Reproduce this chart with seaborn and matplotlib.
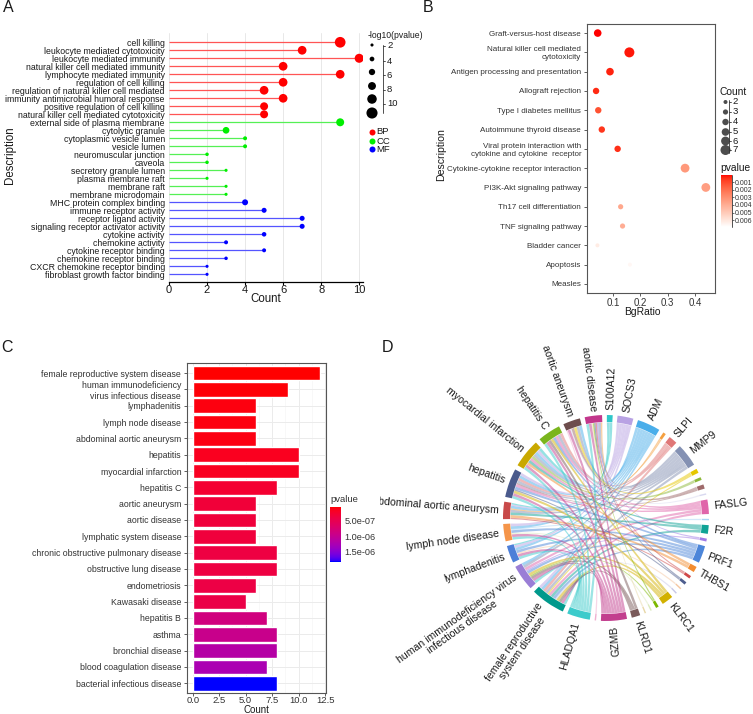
import numpy as np
import pandas as pd
import matplotlib
matplotlib.use("Agg")
import matplotlib.pyplot as plt
import matplotlib.colors as mcolors
from matplotlib.colors import ListedColormap, Normalize
from matplotlib.path import Path
from matplotlib.patches import PathPatch, Wedge
from matplotlib.ticker import MultipleLocator
from matplotlib import font_manager
import matplotlib.cm as mcm
import seaborn as sns

# ======================= DATA =======================
# ---- Panel A: GO enrichment (lollipop) ----
go_terms = ["cell killing", "leukocyte mediated cytotoxicity", "leukocyte mediated immunity",
            "natural killer cell mediated immunity", "lymphocyte mediated immunity",
            "regulation of cell killing", "regulation of natural killer cell mediated",
            "immunity antimicrobial humoral response", "positive regulation of cell killing",
            "natural killer cell mediated cytotoxicity",
            "external side of plasma membrane", "cytolytic granule", "cytoplasmic vesicle lumen",
            "vesicle lumen", "neuromuscular junction", "caveola", "secretory granule lumen",
            "plasma membrane raft", "membrane raft", "membrane microdomain",
            "MHC protein complex binding", "immune receptor activity", "receptor ligand activity",
            "signaling receptor activator activity", "cytokine activity", "chemokine activity",
            "cytokine receptor binding", "chemokine receptor binding",
            "CXCR chemokine receptor binding", "fibroblast growth factor binding"]
go_ontology = ["BP"] * 10 + ["CC"] * 10 + ["MF"] * 10
go_count = [9, 7, 10, 6, 9, 6, 5, 6, 5, 5,
            9, 3, 4, 4, 2, 2, 3, 2, 3, 3,
            4, 5, 7, 7, 5, 3, 5, 3, 2, 2]
go_neglogp = [11.5, 9.0, 9.4, 9.0, 9.0, 9.0, 9.0, 9.0, 8.1, 8.1,
              8.1, 6.5, 3.1, 3.1, 2.5, 2.5, 2.0, 2.0, 2.0, 2.0,
              5.6, 4.4, 4.4, 4.4, 3.8, 3.1, 3.1, 2.5, 2.0, 2.0]
go_size_breaks = [2, 4, 6, 8, 10, 12]
go_size_labels = ["2", "4", "6", "8", "10"]
go_ont_levels = ["BP", "CC", "MF"]

# ---- Panel B: KEGG enrichment (dot plot) ----
kegg_terms = ["Graft-versus-host disease", "Natural killer cell mediated\ncytotoxicity",
              "Antigen processing and presentation", "Allograft rejection",
              "Type I diabetes mellitus", "Autoimmune thyroid disease",
              "Viral protein interaction with\ncytokine and cytokine  receptor",
              "Cytokine-cytokine receptor interaction", "PI3K-Akt signaling pathway",
              "Th17 cell differentiation", "TNF signaling pathway", "Bladder cancer",
              "Apoptosis", "Measles"]
kegg_bgratio = [0.044, 0.160, 0.089, 0.038, 0.046, 0.059, 0.117,
                0.364, 0.440, 0.128, 0.135, 0.043, 0.162, 0.150]
kegg_count = [5, 7, 5, 4, 4, 4, 4, 6, 6, 3, 3, 2, 2, 2]
kegg_pvalue = [0.00005, 0.0002, 0.0003, 0.0004, 0.0012, 0.0006, 0.0005,
               0.0033, 0.0035, 0.0038, 0.0040, 0.0062, 0.0066, 0.0069]
kegg_count_breaks = [2, 3, 4, 5, 6, 7]
kegg_p_ticks = [0.001, 0.002, 0.003, 0.004, 0.005, 0.006]

# ---- Panel C: DO enrichment (bar chart) ----
do_terms = ["female reproductive system disease", "human immunodeficiency\nvirus infectious disease",
            "lymphadenitis", "lymph node disease", "abdominal aortic aneurysm", "hepatitis",
            "myocardial infarction", "hepatitis C", "aortic aneurysm", "aortic disease",
            "lymphatic system disease", "chronic obstructive pulmonary disease",
            "obstructive lung disease", "endometriosis", "Kawasaki disease", "hepatitis B",
            "asthma", "bronchial disease", "blood coagulation disease",
            "bacterial infectious disease"]
do_count = [12, 9, 6, 6, 6, 10, 10, 8, 6, 6, 6, 8, 8, 6, 5, 7, 8, 8, 7, 8]
do_pvalue = [3.3e-8, 6e-8, 8e-8, 8e-8, 9e-8, 1.5e-7, 1.6e-7, 2.6e-7, 3.2e-7, 3.3e-7,
             3.4e-7, 3.8e-7, 3.8e-7, 4.0e-7, 4.2e-7, 8.5e-7, 9.5e-7, 1.15e-6, 1.25e-6, 1.83e-6]
do_p_ticks = [5e-7, 1e-6, 1.5e-6]
do_p_ticklabels = ["5.0e-07", "1.0e-06", "1.5e-06"]

# ---- Panel D: disease-gene chord diagram ----
chord_diseases = ["female reproductive system disease", "human immunodeficiency virus infectious disease",
                  "lymphadenitis", "lymph node disease", "abdominal aortic aneurysm", "hepatitis",
                  "myocardial infarction", "hepatitis C", "aortic aneurysm", "aortic disease"]
chord_disease_labels = ["female reproductive\nsystem disease", "human immunodeficiency virus\ninfectious disease",
                        "lymphadenitis", "lymph node disease", "abdominal aortic aneurysm", "hepatitis",
                        "myocardial infarction", "hepatitis C", "aortic aneurysm", "aortic disease"]
chord_disease_colors = ["#00998C", "#9A7ED6", "#4D7FD8", "#F5954A", "#C84A4A",
                        "#4A5A8C", "#C9A800", "#7AB51D", "#6E4D4D", "#C2378C"]
chord_genes = ["S100A12", "SOCS3", "ADM", "g04", "SLPI", "MMP9", "g07", "g08", "g09", "g10",
               "FASLG", "g12", "F2R", "g14", "PRF1", "THBS1", "g17", "g18", "g19", "g20",
               "KLRC1", "g22", "g23", "g24", "KLRD1", "GZMB", "g27", "HLADQA1"]
chord_gene_labels = ["S100A12", "SOCS3", "ADM", "", "SLPI", "MMP9", "", "", "", "",
                     "FASLG", "", "F2R", "", "PRF1", "THBS1", "", "", "", "",
                     "KLRC1", "", "", "", "KLRD1", "GZMB", "", "HLADQA1"]
chord_gene_colors = ["#2EC7C9", "#B8A2E3", "#4AAEEA", "#F5A040", "#E07777", "#8491B3",
                     "#E6C700", "#8DB83A", "#9E6A6A", "#D9D9F0", "#E065AA", "#A9D4F5",
                     "#0FA396", "#A07AE6", "#4D86D9", "#F28C30", "#D04848", "#4E5E8E",
                     "#F5C6A0", "#C8C8E8", "#D2B100", "#7CB800", "#DDEBC0", "#E8D8A8",
                     "#7A5A5A", "#C23E8E", "#F0B0D0", "#3CCBCB"]
chord_links = {
    "female reproductive system disease": {"GZMB": 1, "HLADQA1": 1, "PRF1": 1, "FASLG": 1, "MMP9": 1,
                                           "ADM": 1, "SOCS3": 1, "KLRC1": 1, "KLRD1": 1, "SLPI": 1,
                                           "F2R": 1, "g07": 0.5, "g20": 0.5},
    "human immunodeficiency virus infectious disease": {"GZMB": 1, "HLADQA1": 1, "PRF1": 1, "FASLG": 1,
                                                        "KLRC1": 1, "KLRD1": 1, "MMP9": 1, "ADM": 1,
                                                        "g14": 0.5, "g22": 0.5},
    "lymphadenitis": {"GZMB": 1, "HLADQA1": 1, "PRF1": 1, "S100A12": 0.5, "ADM": 1, "SOCS3": 1,
                      "g19": 0.5},
    "lymph node disease": {"GZMB": 1, "HLADQA1": 1, "PRF1": 1, "ADM": 1, "SOCS3": 1, "g23": 0.5,
                           "g12": 0.5},
    "abdominal aortic aneurysm": {"MMP9": 1, "THBS1": 1, "ADM": 1, "SOCS3": 0.5, "S100A12": 0.5,
                                  "F2R": 1, "g17": 0.5, "g04": 0.5},
    "hepatitis": {"GZMB": 1, "HLADQA1": 1, "FASLG": 1, "PRF1": 1, "MMP9": 1, "ADM": 1, "SOCS3": 1,
                  "KLRC1": 1, "SLPI": 1, "g09": 0.5, "g18": 0.5},
    "myocardial infarction": {"MMP9": 1, "ADM": 1, "SOCS3": 1, "F2R": 1, "THBS1": 1, "FASLG": 1,
                              "GZMB": 1, "HLADQA1": 1, "S100A12": 1, "g08": 1},
    "hepatitis C": {"GZMB": 1, "HLADQA1": 1, "FASLG": 1, "PRF1": 1, "KLRC1": 1, "KLRD1": 1,
                    "MMP9": 1, "SLPI": 1},
    "aortic aneurysm": {"MMP9": 1, "ADM": 1, "GZMB": 1, "g09": 1, "g07": 1, "g27": 0.5, "g10": 0.5},
    "aortic disease": {"MMP9": 1, "GZMB": 1, "HLADQA1": 1, "g17": 0.5, "g18": 0.5, "g14": 0.5,
                       "g22": 0.5, "g24": 0.5, "g04": 0.5},
}

# ======================= HELPERS =======================
W, H = 753, 714
sns.set_style("white")
plt.rcParams["font.family"] = ["Liberation Sans", "DejaVu Sans"]
_names = {f.name for f in font_manager.fontManager.ttflist}
NARROW = ["Liberation Sans Narrow"] if "Liberation Sans Narrow" in _names else ["Liberation Sans"]
NARROW_OK = NARROW[0] == "Liberation Sans Narrow"

_M = np.array([[0.4124, 0.3576, 0.1805], [0.2126, 0.7152, 0.0722], [0.0193, 0.1192, 0.9505]])
_WP = np.array([0.95047, 1.0, 1.08883])


def _to_lin(c):
    c = np.asarray(c, float)
    return np.where(c <= 0.04045, c / 12.92, ((c + 0.055) / 1.055) ** 2.4)


def _to_srgb(c):
    c = np.clip(c, 0, 1)
    return np.where(c <= 0.0031308, 12.92 * c, 1.055 * c ** (1 / 2.4) - 0.055)


def rgb_to_lab(rgb):
    xyz = _M @ _to_lin(rgb) / _WP
    d = 6 / 29
    f = np.where(xyz > d ** 3, np.cbrt(xyz), xyz / (3 * d * d) + 4 / 29)
    return np.array([116 * f[1] - 16, 500 * (f[0] - f[1]), 200 * (f[1] - f[2])])


def lab_to_rgb(lab):
    d = 6 / 29
    fy = (lab[0] + 16) / 116
    f = np.array([fy + lab[1] / 500, fy, fy - lab[2] / 200])
    xyz = np.where(f > d, f ** 3, 3 * d * d * (f - 4 / 29)) * _WP
    return _to_srgb(np.linalg.solve(_M, xyz))


def lab_cmap(c1, c2, n=256):
    l1, l2 = rgb_to_lab(mcolors.to_rgb(c1)), rgb_to_lab(mcolors.to_rgb(c2))
    return ListedColormap([lab_to_rgb(l1 + (l2 - l1) * t) for t in np.linspace(0, 1, n)])


fig = plt.figure(figsize=(W / 100, H / 100), dpi=100)


def px_axes(l, t, r, b, **kw):
    return fig.add_axes([l / W, 1 - b / H, (r - l) / W, (b - t) / H], **kw)


PT = 0.72  # points per pixel at 100 dpi
TXT = "#1A1A1A"

# ======================= PANEL A =======================
dfA = pd.DataFrame({"term": go_terms, "ontology": go_ontology, "count": go_count,
                    "nlp": go_neglogp})
dfA["pos"] = np.arange(len(dfA))
ptA = {"BP": "#FF0000", "CC": "#00EE00", "MF": "#0000FF"}
lnA = {"BP": "#FF5555", "CC": "#55F055", "MF": "#5555FF"}


def sizeA(v):
    return ((0.8 * np.asarray(v, float) + 1.5) * PT) ** 2


axA = px_axes(169, 33, 363, 282)
axA.hlines(dfA["pos"], 0, dfA["count"], colors=[lnA[o] for o in dfA["ontology"]],
           lw=0.9, zorder=2)
sns.scatterplot(data=dfA, x="count", y="pos", hue="ontology", palette=ptA,
                s=sizeA(dfA["nlp"]), linewidth=0, legend=False, ax=axA, zorder=3)
axA.set_xlim(0, 10.2)
axA.set_ylim(len(dfA) - 1 + 0.96, -1.16)
axA.set_yticks(dfA["pos"])
axA.set_yticklabels(dfA["term"], family=NARROW + ["Liberation Sans", "DejaVu Sans"],
                    fontsize=7.4 if NARROW_OK else 6.3)
axA.set_xticks([0, 2, 4, 6, 8, 10])
axA.tick_params(axis="y", length=0, pad=3, labelcolor=TXT)
axA.tick_params(axis="x", length=2, width=0.8, color="black", labelsize=8, pad=0.5,
                direction="out", bottom=True, labelcolor=TXT)
for sp in ["left", "top", "right"]:
    axA.spines[sp].set_visible(False)
axA.spines["bottom"].set_color("black")
axA.spines["bottom"].set_linewidth(0.9)
axA.grid(axis="x", color="#E8E8E8", lw=0.7)
axA.grid(axis="y", visible=False)
axA.set_axisbelow(True)
axA.set_xlabel("")
axA.set_ylabel("")

# ======================= PANEL B =======================
dfB = pd.DataFrame({"term": kegg_terms, "bg": kegg_bgratio, "count": kegg_count,
                    "p": kegg_pvalue})
dfB["pos"] = np.arange(len(dfB))
cmapB = lab_cmap("#FF0000", "#FFFFFF")
normB = Normalize(min(kegg_pvalue), max(kegg_pvalue))


def sizeB(c):
    return ((1.6 + 1.2 * np.asarray(c, float)) * PT) ** 2


axB = px_axes(586.7, 24, 715, 293)
sns.scatterplot(data=dfB, x="bg", y="pos", hue="p", palette=cmapB, hue_norm=normB,
                s=sizeB(dfB["count"]), linewidth=0, legend=False, ax=axB, zorder=3)
axB.set_xlim(0.0037, 0.4736)
axB.set_ylim(len(dfB) - 1 + 0.47, -0.47)
axB.set_yticks(dfB["pos"])
axB.set_yticklabels(dfB["term"])
axB.set_xticks([0.1, 0.2, 0.3, 0.4])
axB.set_xticklabels(["0.1", "0.2", "0.3", "0.4"])
axB.tick_params(axis="y", length=2, width=0.6, color="#444444", labelsize=5.8, pad=2,
                left=True, labelcolor="#333333")
axB.tick_params(axis="x", length=2.5, width=0.6, color="#444444", labelsize=7, pad=1,
                bottom=True, labelcolor="#333333")
for sp in axB.spines.values():
    sp.set_color("#555555")
    sp.set_linewidth(0.8)
axB.grid(False)
axB.set_xlabel("")
axB.set_ylabel("")

# ======================= PANEL C =======================
dfC = pd.DataFrame({"term": do_terms, "count": do_count, "p": do_pvalue})
cmapC = lab_cmap("#FF0000", "#0000FF")
normC = Normalize(min(do_pvalue), max(do_pvalue))
palC = {t: cmapC(normC(p)) for t, p in zip(dfC["term"], dfC["p"])}

axC = px_axes(186.7, 363.3, 326, 693)
sns.barplot(data=dfC, x="count", y="term", hue="term", palette=palC, legend=False,
            width=0.9, saturation=1, orient="h", ax=axC, zorder=3)
axC.set_xlim(-0.57, 12.58)
axC.set_ylim(len(dfC) - 1 + 0.6, -0.6)
axC.set_xticks([0, 2.5, 5, 7.5, 10, 12.5])
axC.set_xticklabels(["0.0", "2.5", "5.0", "7.5", "10.0", "12.5"])
axC.xaxis.set_minor_locator(MultipleLocator(1.25))
axC.grid(axis="x", which="major", color="#EBEBEB", lw=0.7)
axC.grid(axis="x", which="minor", color="#F3F3F3", lw=0.4)
axC.grid(axis="y", which="major", color="#EBEBEB", lw=0.7)
axC.set_axisbelow(True)
axC.tick_params(axis="y", length=2, width=0.6, color="#444444", labelsize=6.3, pad=2,
                left=True, labelcolor="#333333")
axC.tick_params(axis="x", which="major", length=2, width=0.6, color="#444444",
                labelsize=6.8, pad=0.5, bottom=True, labelcolor="#333333")
axC.tick_params(axis="x", which="minor", length=0)
for sp in axC.spines.values():
    sp.set_color("#555555")
    sp.set_linewidth(0.8)
axC.set_xlabel("")
axC.set_ylabel("")

# ======================= PANEL D (chord) =======================
axD = px_axes(380, 315, 753, 714)
axD.set_xlim(380, 753)
axD.set_ylim(0, 399)
axD.axis("off")
cx, cy = 606.0, 714.0 - 518.0
r_out, r_in = 103.0, 96.0
r_link = 95.6
gene_tot = [sum(chord_links[d].get(g, 0) for d in chord_diseases) for g in chord_genes]
dis_tot = [sum(chord_links[d].values()) for d in chord_diseases]
sectors = chord_genes + chord_diseases
values = gene_tot + dis_tot
colors = chord_gene_colors + chord_disease_colors
labels = chord_gene_labels + chord_disease_labels
gap = 2.7
unit = (360.0 - gap * len(sectors)) / sum(values)
span = {}
ang = 89.5
for s, v in zip(sectors, values):
    span[s] = (ang, ang - v * unit)
    ang -= v * unit + gap
idx = {s: i for i, s in enumerate(sectors)}
cursor = {s: span[s][0] for s in sectors}
ends = {}
for d in chord_diseases:
    for g in sorted(chord_links[d], key=lambda g: -idx[g]):
        a1 = cursor[d]
        a2 = a1 - chord_links[d][g] * unit
        cursor[d] = a2
        ends[(d, g)] = [(a1, a2), None]
for g in chord_genes:
    ds = [d for d in chord_diseases if g in chord_links[d]]
    for d in sorted(ds, key=lambda d: -idx[d]):
        b1 = cursor[g]
        b2 = b1 - chord_links[d][g] * unit
        cursor[g] = b2
        ends[(d, g)][1] = (b1, b2)


def P(a, r=r_link):
    t = np.deg2rad(a)
    return (cx + r * np.cos(t), cy + r * np.sin(t))


def arc(a1, a2, r=r_link, n=16):
    return [P(a, r) for a in np.linspace(a1, a2, n)]


def ctrl(a, b):
    # control point pulled a little off the centre, towards the chord mid-point
    m = np.deg2rad((a + b) / 2)
    sep = abs(((a - b + 180) % 360) - 180)
    k = 0.25 * (1 - sep / 180)
    return (cx + k * r_link * np.cos(m), cy + k * r_link * np.sin(m))


gcol = dict(zip(chord_genes, chord_gene_colors))
for (d, g), ((a1, a2), (b1, b2)) in ends.items():
    va = arc(a1, a2)
    vb = arc(b1, b2)
    c1 = ctrl(a2, b1)
    c2 = ctrl(b2, a1)
    verts = va + [c1, vb[0]] + vb[1:] + [c2, va[0], va[0]]
    codes = ([Path.MOVETO] + [Path.LINETO] * (len(va) - 1) + [Path.CURVE3, Path.CURVE3]
             + [Path.LINETO] * (len(vb) - 1) + [Path.CURVE3, Path.CURVE3, Path.CLOSEPOLY])
    axD.add_patch(PathPatch(Path(verts, codes), facecolor=gcol[g], edgecolor="none",
                            alpha=0.5, zorder=2))

for s, c, lab in zip(sectors, colors, labels):
    a1, a2 = span[s]
    axD.add_patch(Wedge((cx, cy), r_out, a2, a1, width=r_out - r_in, facecolor=c,
                        edgecolor="none", zorder=3))
    if not lab:
        continue
    mid = ((a1 + a2) / 2 + 180) % 360 - 180
    x, y = P(mid, 108)
    if -82 < mid < 95:
        rot, ha = mid, "left"
    else:
        rot, ha = mid - 180, "right"
    axD.text(x, y, lab, rotation=rot, rotation_mode="anchor", ha=ha, va="center",
             multialignment="center", fontsize=7.6, color=TXT, clip_on=True, zorder=4,
             linespacing=1.0)

# ======================= OVERLAY (titles, legends) =======================
ov = fig.add_axes([0, 0, 1, 1])
ov.set_xlim(0, W)
ov.set_ylim(H, 0)
ov.axis("off")
ov.patch.set_visible(False)

for lab, x, y in [("A", 8, 8), ("B", 428, 8), ("C", 7, 347), ("D", 388, 347)]:
    ov.text(x, y, lab, fontsize=11.5, ha="center", va="center", color=TXT)

# Panel A titles and legend
ov.text(10, 155, "Description", rotation=90, fontsize=8.3, ha="center", va="center", color=TXT)
ov.text(266, 299, "Count", fontsize=8.3, ha="center", va="center", color=TXT)
ov.text(368, 35, "-log10(pvalue)", fontsize=6.2, ha="left", va="center", color=TXT)
legA_y = [45, 59, 72, 86, 99, 113]
ov.scatter([372] * len(go_size_breaks), legA_y, s=sizeA(go_size_breaks), color="black",
           linewidth=0)
labA_y = [46, 61, 75, 90, 104]
ov.plot([383, 383], [45, 113], color="#333333", lw=0.6)
for yy, t in zip(labA_y, go_size_labels):
    ov.plot([383, 385], [yy, yy], color="#333333", lw=0.6)
    ov.text(387, yy, t, fontsize=6.8, ha="left", va="center", color=TXT)
for yy, o in zip([132, 141, 149], go_ont_levels):
    ov.scatter([372], [yy], s=(6 * PT) ** 2, color=ptA[o], linewidth=0)
    ov.text(376.5, yy, o, fontsize=6.8, ha="left", va="center", color=TXT)

# Panel B titles and legends
ov.text(441, 155, "Description", rotation=90, fontsize=7.6, ha="center", va="center", color=TXT)
ov.text(642, 312, "BgRatio", fontsize=7.4, ha="center", va="center", color=TXT)
ov.text(720, 92, "Count", fontsize=7.4, ha="left", va="center", color=TXT)
legB_y = [102, 112, 122, 132, 141, 150]
ov.scatter([725.5] * len(kegg_count_breaks), legB_y, s=sizeB(kegg_count_breaks),
           color="#4D4D4D", linewidth=0)
ov.plot([729.5, 729.5], [100, 153], color="#333333", lw=0.6)
for yy, c in zip(legB_y, kegg_count_breaks):
    ov.plot([729.5, 731], [yy, yy], color="#333333", lw=0.6)
    ov.text(732.5, yy, str(c), fontsize=6.8, ha="left", va="center", color=TXT)
ov.text(720, 168, "pvalue", fontsize=7.4, ha="left", va="center", color=TXT)

caxB = px_axes(720.7, 175, 731.7, 227)
cbB = fig.colorbar(mcm.ScalarMappable(norm=normB, cmap=cmapB), cax=caxB)
cbB.outline.set_visible(False)
cbB.set_ticks(kegg_p_ticks)
cbB.set_ticklabels([f"{t:.3f}" for t in kegg_p_ticks])
caxB.invert_yaxis()
caxB.tick_params(labelsize=5.0, length=1.5, width=0.5, color="#333333", pad=1,
                 labelcolor="#333333")
caxB.plot([1, 1], [0, 1], transform=caxB.transAxes, color="#333333", lw=0.6, clip_on=False)

# Panel C titles and colorbar
ov.text(256, 710, "Count", fontsize=7.0, ha="center", va="center", color=TXT)
ov.text(330, 500, "pvalue", fontsize=6.8, ha="left", va="center", color="#333333")
caxC = px_axes(330, 506.7, 340.7, 561.7)
cbC = fig.colorbar(mcm.ScalarMappable(norm=normC, cmap=cmapC), cax=caxC)
cbC.outline.set_visible(False)
cbC.set_ticks(do_p_ticks)
cbC.set_ticklabels(do_p_ticklabels)
caxC.invert_yaxis()
caxC.tick_params(labelsize=6.6, length=2.5, width=0.5, color="white", direction="in",
                 pad=2.5, labelcolor="#333333", left=True)

fig.savefig("out.png", dpi=100)
